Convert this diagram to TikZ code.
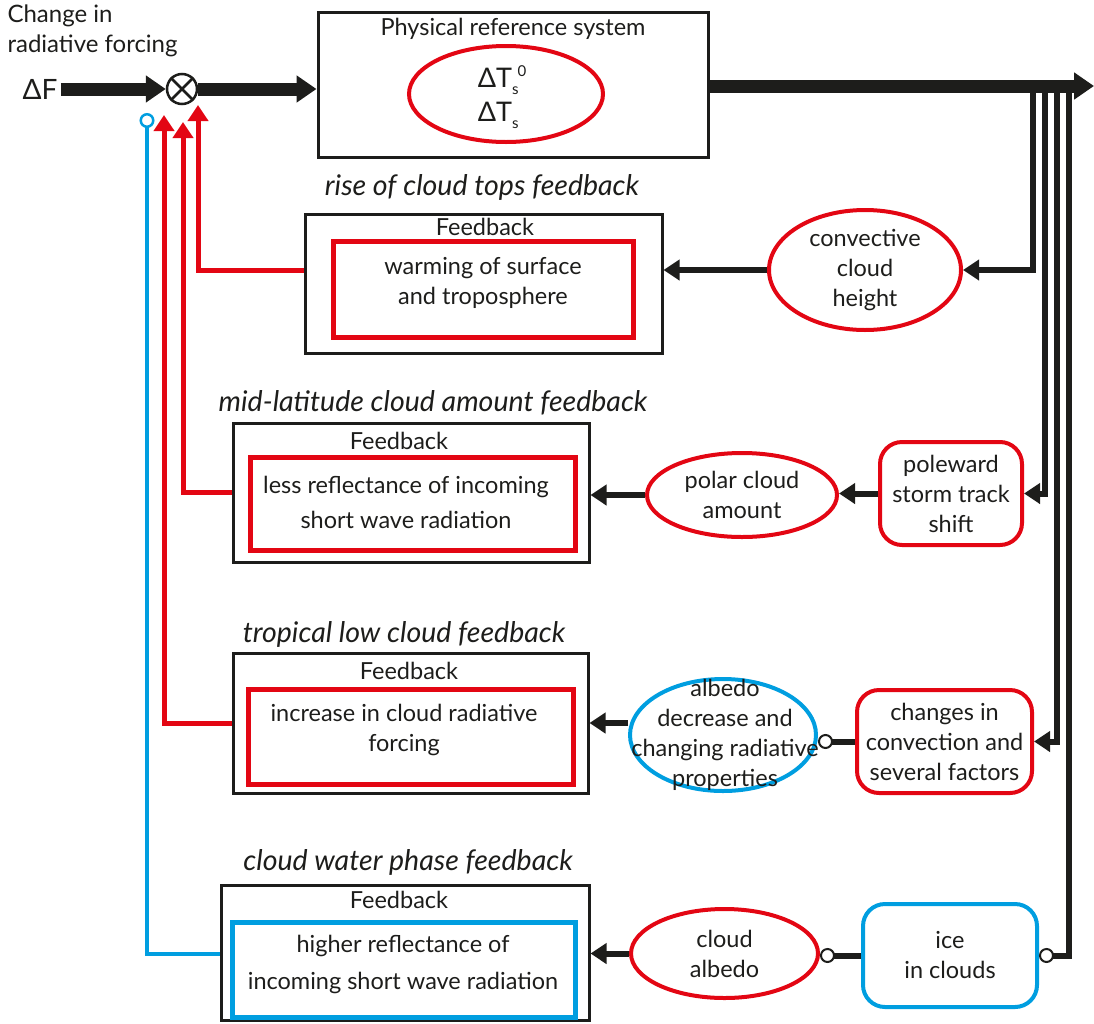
\documentclass[tikz,border=0pt]{standalone}
\usepackage{fontspec}
\setmainfont{Lato}
\usepackage{tikz}
\usetikzlibrary{arrows.meta,shapes.geometric,calc}
\definecolor{fbred}{RGB}{227,6,19}
\definecolor{fbblue}{RGB}{0,158,224}
\definecolor{fbblack}{RGB}{29,29,27}
\newcommand{\lowsub}[1]{\raisebox{-7pt}{\fontsize{15}{15}\selectfont #1}}
\newcommand{\highsup}[1]{\raisebox{11pt}{\fontsize{15}{15}\selectfont #1}}

\begin{document}
\begin{tikzpicture}[x=1pt,y=-1pt,
  every node/.style={font=\fontsize{23.5}{30}\selectfont, text=fbblack},
  heading/.style={font=\fontsize{28.5}{30}\selectfont\itshape},
  fbbox/.style={draw=fbblack, line width=3pt, rectangle, inner sep=0pt},
  effect/.style={rectangle, line width=5pt, align=center, inner sep=0pt},
  cause/.style={ellipse, draw=fbred, line width=4pt, align=center, inner sep=0pt},
  driver/.style={rectangle, rounded corners=22pt, draw=fbred, line width=4pt, align=center, inner sep=0pt},
  mainflow/.style={draw=fbblack, line width=13pt, -{Triangle[length=20pt,width=26pt]}},
  feed/.style={draw=fbblack, line width=6pt, -{Triangle[length=16pt,width=20pt]}},
  bundle/.style={draw=fbblack, line width=5pt},
  linkc/.style={draw=fbblack, line width=6pt, -{Circle[open,length=15pt,line width=2pt]}},
  redfb/.style={draw=fbred, line width=5pt, -{Triangle[length=16pt,width=20pt]}},
  bluefb/.style={draw=fbblue, line width=4pt, -{Circle[open,length=15pt,line width=2.5pt]}}]
\useasboundingbox (0,0) rectangle (1094,1023);

\node[anchor=north west, align=left, font=\fontsize{24}{30}\selectfont] (forcing) at (4,1) {Change in\\radiative forcing};
\node (df) at (40,89) {\fontsize{28}{30}\selectfont ΔF};
\node[circle, draw=fbblack, line width=2.5pt, minimum size=30pt, inner sep=0pt] (sum) at (182,89) {};
\draw[fbblack, line width=2.5pt] (sum.north east) -- (sum.south west) (sum.north west) -- (sum.south east);

\node[fbbox, minimum width=390pt, minimum height=145pt] (sys) at (513,85) {};
\node (systitle) at (513,29) {Physical reference system};
\node[cause, minimum width=194pt, minimum height=96pt] (ts) at (506,94) {};
\node[align=left, font=\fontsize{27}{34}\selectfont] (tstext) at (502,97) {ΔT\lowsub{s}\hspace{-1pt}\highsup{0}\\ΔT\lowsub{s}};

\coordinate (out) at (1094,86);
\coordinate (b1) at (1033,86);
\coordinate (b2) at (1045,86);
\coordinate (b3) at (1057,86);
\coordinate (b4) at (1069,86);
\coordinate (in1) at (198,105);
\coordinate (in2) at (183,122);
\coordinate (in3) at (164,115);
\coordinate (in4) at (147,113);

\draw[mainflow] (df.east) -- (sum.west);
\draw[mainflow] (sum.east) -- (sum -| sys.west);
\draw[mainflow] (sys.east |- out) -- (out);

\node[heading] (h1) at (482,187) {rise of cloud tops feedback};
\node[fbbox, minimum width=357pt, minimum height=139pt] (fb1) at (483.5,283.5) {};
\node (fbt1) at (485,227) {Feedback};
\node[effect, draw=fbred, minimum width=300pt, minimum height=96pt] (eff1) at (483,289) {};
\node[align=center] (efft1) at (483,283) {warming of surface\\and troposphere};
\node[cause, minimum width=192pt, minimum height=120pt] (conv) at (865,270) {convective\\cloud\\height};

\node[heading] (h2) at (433,403) {mid-latitude cloud amount feedback};
\node[fbbox, minimum width=356pt, minimum height=139pt] (fb2) at (411,492.5) {};
\node (fbt2) at (399,441) {Feedback};
\node[effect, draw=fbred, minimum width=325pt, minimum height=93pt] (eff2) at (412.5,503.5) {};
\node[align=center, font=\fontsize{23.5}{35}\selectfont] (efft2) at (406,502) {less reflectance of incoming\\short wave radiation};
\node[cause, minimum width=190pt, minimum height=84pt] (polar) at (742,495) {polar cloud\\amount};
\node[driver, minimum width=142pt, minimum height=103pt] (pole) at (951,493.5) {poleward\\storm track\\shift};

\node[heading] (h3) at (404,634) {tropical low cloud feedback};
\node[fbbox, minimum width=355pt, minimum height=140pt] (fb3) at (410.5,723) {};
\node (fbt3) at (409,671) {Feedback};
\node[effect, draw=fbred, minimum width=325pt, minimum height=95pt] (eff3) at (410.5,736.5) {};
\node[align=center] (efft3) at (404,730) {increase in cloud radiative\\forcing};
\node[cause, draw=fbblue, minimum width=186pt, minimum height=112pt] (albedo) at (723,735) {};
\node[align=center] (albtext) at (725,735) {albedo\\decrease and\\changing radiative\\properties};
\node[driver, minimum width=175pt, minimum height=103pt] (chg) at (944.5,741.5) {changes in\\convection and\\several factors};

\node[heading] (h4) at (408,862) {cloud water phase feedback};
\node[fbbox, minimum width=368pt, minimum height=135pt] (fb4) at (405,952.5) {};
\node (fbt4) at (399,900) {Feedback};
\node[effect, draw=fbblue, minimum width=343pt, minimum height=95pt] (eff4) at (403.5,969.5) {};
\node[align=center, font=\fontsize{23.5}{37}\selectfont] (efft4) at (403,964) {higher reflectance of\\incoming short wave radiation};
\node[cause, minimum width=187pt, minimum height=89pt] (calb) at (724.5,953.5) {cloud\\albedo};
\node[driver, draw=fbblue, minimum width=174pt, minimum height=103pt] (ice) at (950,955.5) {ice\\in clouds};

\draw[bundle] (b1) -- ($(b1)+(0,10)$);
\draw[feed] (b1) |- (conv.east);
\draw[feed] (b2) |- (pole.east);
\draw[feed] (b3) |- (chg.east);
\draw[linkc] (b4) |- (ice.east);

\draw[feed] (conv.west) -- (conv.west -| fb1.east);
\draw[feed] (pole.west) -- (pole.west -| polar.east);
\draw[feed] (polar.west) -- (polar.west -| fb2.east);
\draw[linkc] (chg.west) -- (chg.west -| albedo.east);
\draw[feed] (albedo.west |- fb3.east) -- (fb3.east);
\draw[linkc] (ice.west) -- (ice.west -| calb.east);
\draw[feed] (calb.west) -- (calb.west -| fb4.east);

\draw[redfb] (fb1.west |- conv.west) -| (in1);
\draw[redfb] (fb2.west) -| (in2);
\draw[redfb] (fb3.west) -| (in3);
\draw[bluefb] (fb4.west |- calb.west) -| (in4);
\end{tikzpicture}
\end{document}
